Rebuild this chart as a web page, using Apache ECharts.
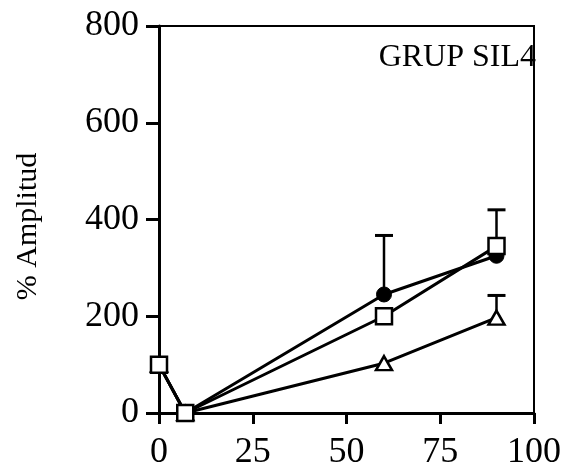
<!DOCTYPE html>
<html>
<head>
<meta charset="utf-8">
<script src="https://cdn.jsdelivr.net/npm/echarts@6/dist/echarts.min.js"></script>
<style>
  html, body { margin: 0; padding: 0; background: #fff; }
  #chart { width: 564px; height: 471px; }
</style>
</head>
<body>
<div id="chart"></div>
<script>
// time points (x) and % amplitude for each group
const times = [0, 7, 60, 90];
const squareVals = [100, 0, 200, 345];
const circleVals = [100, 0, 245, 325];
const triangleVals = [100, 0, 103, 197];

// upper error bars: [x, value, top]
const errorBars = [
  [60, 245, 367],
  [90, 330, 420],
  [90, 197, 243]
];

const xTicks = [0, 25, 50, 75, 100];
const yTicks = [0, 200, 400, 600, 800];

const font = "Liberation Serif";

const pairs = vals => times.map((t, i) => [t, vals[i]]);

const myChart = echarts.init(document.getElementById("chart"));

myChart.setOption({
  animation: false,
  backgroundColor: "#fff",
  grid: {
    left: 159, right: 28, top: 26, bottom: 58,
    show: true, borderColor: "#000", borderWidth: 2
  },
  title: {
    text: "GRUP SIL4",
    right: 28, top: 42, padding: 0,
    textStyle: { fontFamily: font, fontSize: 32, fontWeight: "normal", color: "#000" }
  },
  xAxis: {
    type: "value", min: 0, max: 100, interval: 25,
    axisLine: { lineStyle: { color: "#000", width: 3 } },
    axisTick: { inside: false, length: 11, lineStyle: { color: "#000", width: 3 } },
    axisLabel: { margin: 22, fontFamily: font, fontSize: 36, color: "#000",
      formatter: v => xTicks.includes(v) ? String(v) : "" },
    splitLine: { show: false }
  },
  yAxis: {
    type: "value", min: 0, max: 800, interval: 200,
    name: "% Amplitud", nameLocation: "middle", nameGap: 116, nameRotate: 90,
    nameTextStyle: { fontFamily: font, fontSize: 30, color: "#000", padding: [0, 14, 0, 0] },
    axisLine: { lineStyle: { color: "#000", width: 3 } },
    axisTick: { inside: false, length: 13, lineStyle: { color: "#000", width: 3 } },
    axisLabel: { margin: 20, fontFamily: font, fontSize: 36, color: "#000",
      formatter: v => yTicks.includes(v) ? String(v) : "" },
    splitLine: { show: false }
  },
  series: [
    {
      type: "custom",
      z: 1,
      data: errorBars,
      renderItem: (params, api) => {
        const x = api.value(0);
        const p0 = api.coord([x, api.value(1)]);
        const p1 = api.coord([x, api.value(2)]);
        const hw = 9;
        return {
          type: "group",
          children: [
            { type: "line", shape: { x1: p0[0], y1: p0[1], x2: p1[0], y2: p1[1] },
              style: { stroke: "#000", lineWidth: 2.5 } },
            { type: "line", shape: { x1: p1[0] - hw, y1: p1[1], x2: p1[0] + hw, y2: p1[1] },
              style: { stroke: "#000", lineWidth: 3 } }
          ]
        };
      }
    },
    {
      type: "line", z: 2,
      data: pairs(triangleVals),
      symbol: "triangle", symbolSize: [16, 14],
      lineStyle: { color: "#000", width: 3 },
      itemStyle: { color: "#fff", borderColor: "#000", borderWidth: 2.5 }
    },
    {
      type: "line", z: 3,
      data: pairs(circleVals),
      symbol: "circle", symbolSize: 15,
      lineStyle: { color: "#000", width: 3 },
      itemStyle: { color: "#000", borderColor: "#000", borderWidth: 1 }
    },
    {
      type: "line", z: 4,
      data: pairs(squareVals),
      symbol: "rect", symbolSize: 16,
      lineStyle: { color: "#000", width: 3 },
      itemStyle: { color: "#fff", borderColor: "#000", borderWidth: 2.5 }
    }
  ]
});
</script>
</body>
</html>
